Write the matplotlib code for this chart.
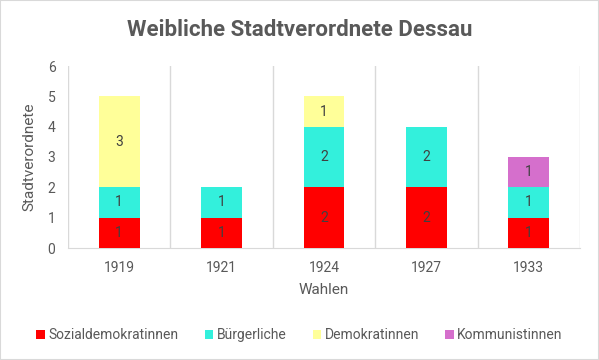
import matplotlib.pyplot as plt
import numpy as np

years = ["1919", "1921", "1924", "1927", "1933"]
sozialdemokratinnen = [1, 1, 2, 2, 1]
buergerliche = [1, 1, 2, 2, 1]
demokratinnen = [3, 0, 1, 0, 0]
kommunistinnen = [0, 0, 0, 0, 1]

series = [
    ("Sozialdemokratinnen", sozialdemokratinnen, "#ff0000"),
    ("Bürgerliche", buergerliche, "#33f0dc"),
    ("Demokratinnen", demokratinnen, "#ffff99"),
    ("Kommunistinnen", kommunistinnen, "#d56fcc"),
]

plt.rcParams["font.family"] = ["Roboto", "DejaVu Sans"]
grey = "#595959"

fig = plt.figure(figsize=(5.99, 3.6), dpi=100)
ax = fig.add_axes([68 / 599, 1 - 248 / 360, 512 / 599, 182 / 360])

x = np.arange(len(years))
bottom = np.zeros(len(years))
for name, vals, col in series:
    vals = np.array(vals, dtype=float)
    bars = ax.bar(x, vals, 0.4, bottom=bottom, color=col, label=name, zorder=3)
    for b, v, y0 in zip(bars, vals, bottom):
        if v > 0:
            ax.text(b.get_x() + b.get_width() / 2, y0 + v / 2, f"{int(v)}",
                    ha="center", va="center", fontsize=10, color="#404040", zorder=4)
    bottom += vals

ax.set_xlim(-0.5, len(years) - 0.5)
ax.set_ylim(0, 6)
ax.set_yticks(range(7))
ax.set_xticks(x)
ax.set_xticklabels(years)
for b in np.arange(-0.5, len(years), 1.0):
    ax.axvline(b, color="#d9d9d9", lw=1, zorder=1)

for s in ["top", "right", "left"]:
    ax.spines[s].set_visible(False)
ax.spines["bottom"].set_color("#d9d9d9")
ax.tick_params(length=0, labelsize=10, colors=grey, pad=9)
ax.set_ylabel("Stadtverordnete", fontsize=11, color=grey, labelpad=8)
ax.set_xlabel("Wahlen", fontsize=11, color=grey, labelpad=6)

fig.text(0.5, 1 - 30 / 360, "Weibliche Stadtverordnete Dessau", ha="center", va="center",
         fontsize=16, fontweight="bold", color=grey)

fig.legend(loc="center", bbox_to_anchor=(0.5, 1 - 335 / 360), ncol=4, frameon=False,
           fontsize=10, labelcolor=grey, handlelength=0.6, handleheight=0.6,
           handletextpad=0.25, columnspacing=1.9)

fig.patches.append(plt.Rectangle((0, 0), 1, 1, transform=fig.transFigure, fill=False,
                                 edgecolor="#d9d9d9", lw=1.5))

fig.savefig("out.png", dpi=100)
